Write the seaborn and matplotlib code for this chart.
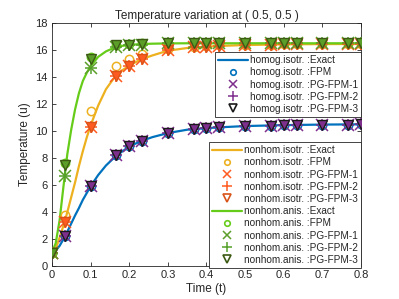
import seaborn as sns
import matplotlib.pyplot as plt
from matplotlib.lines import Line2D

# ---- exact solutions ----
t_exact = [0, 0.01, 0.02, 0.03, 0.04, 0.05, 0.06, 0.07, 0.08, 0.09, 0.1,
           0.12, 0.14, 0.16, 0.18, 0.2, 0.23, 0.26, 0.3, 0.35, 0.4, 0.45,
           0.5, 0.6, 0.7, 0.8]
homog_exact = [1.0, 1.15, 1.5, 2.0, 2.55, 3.15, 3.75, 4.3, 4.9, 5.4, 5.9,
               6.75, 7.45, 8.0, 8.45, 8.85, 9.25, 9.55, 9.85, 10.1, 10.22,
               10.3, 10.37, 10.44, 10.48, 10.5]
nonhom_isotr_exact = [1.0, 1.3, 2.1, 3.0, 4.0, 5.1, 6.2, 7.4, 8.5, 9.5, 10.4,
                      11.9, 13.1, 13.9, 14.45, 14.85, 15.3, 15.6, 15.95, 16.15,
                      16.25, 16.32, 16.37, 16.42, 16.44, 16.45]
nonhom_anis_exact = [1.0, 1.7, 3.4, 5.9, 8.3, 10.1, 11.6, 12.8, 13.7, 14.3,
                     14.8, 15.5, 15.9, 16.15, 16.3, 16.38, 16.44, 16.47, 16.49,
                     16.5, 16.5, 16.5, 16.5, 16.5, 16.5, 16.5]

# ---- discrete solutions ----
t_pts = [0, 0.033, 0.1, 0.167, 0.2, 0.233, 0.3, 0.367, 0.4, 0.433, 0.5,
         0.567, 0.6, 0.633, 0.7, 0.767, 0.8]

homog_fpm = [1.0, 2.2, 5.9, 8.2, 8.9, 9.3, 9.85, 10.15, 10.2, 10.3, 10.35,
             10.4, 10.42, 10.44, 10.46, 10.48, 10.5]
homog_pg1 = homog_fpm
homog_pg2 = homog_fpm
homog_pg3 = homog_fpm

isotr_fpm = [1.0, 3.8, 11.5, 14.8, 15.3, 15.7, 16.1, 16.25, 16.3, 16.35,
             16.38, 16.4, 16.42, 16.43, 16.44, 16.45, 16.45]
isotr_pg1 = [1.0, 3.3, 10.3, 14.1, 14.8, 15.3, 16.0, 16.2, 16.25, 16.3,
             16.35, 16.4, 16.42, 16.43, 16.44, 16.45, 16.45]
isotr_pg2 = isotr_pg1
isotr_pg3 = isotr_pg1

anis_fpm = [1.0, 7.6, 15.5, 16.4, 16.45, 16.5, 16.5, 16.5, 16.5, 16.5,
            16.5, 16.5, 16.5, 16.5, 16.5, 16.5, 16.5]
anis_pg1 = [1.0, 6.7, 14.7, 16.2, 16.35, 16.4, 16.5, 16.5, 16.5, 16.5,
            16.5, 16.5, 16.5, 16.5, 16.5, 16.5, 16.5]
anis_pg2 = anis_pg1
anis_pg3 = [1.0, 7.5, 15.3, 16.35, 16.4, 16.45, 16.5, 16.5, 16.5, 16.5,
            16.5, 16.5, 16.5, 16.5, 16.5, 16.5, 16.5]

sns.set_style("ticks")
plt.rcParams["font.family"] = ["Liberation Sans", "DejaVu Sans"]

fig = plt.figure(figsize=(3.99, 2.99), dpi=100)
ax = fig.add_axes([0.130, 0.110, 0.775, 0.813])

# series: name, exact, fpm, pg1, pg2, pg3, colors (line, circle, x, +, tri edge, tri face)
series = [
    ("homog.isotr.", homog_exact, homog_fpm, homog_pg1, homog_pg2, homog_pg3,
     "#0072BD", "#0072BD", "#7E2F8E", "#7E2F8E", "#1a1a1a", "#7E2F8E"),
    ("nonhom.isotr.", nonhom_isotr_exact, isotr_fpm, isotr_pg1, isotr_pg2, isotr_pg3,
     "#EDB120", "#EDB120", "#FF5A1F", "#FF5A1F", "#D95319", "#FF5A1F"),
    ("nonhom.anis.", nonhom_anis_exact, anis_fpm, anis_pg1, anis_pg2, anis_pg3,
     "#66CC1A", "#66CC1A", "#5C9E2A", "#55A02A", "#3C5A14", "#5C9E2A"),
]

handles = []
for name, ex, fpm, p1, p2, p3, c_line, c_o, c_x, c_p, c_te, c_tf in series:
    sns.lineplot(x=t_exact, y=ex, ax=ax, color=c_line, linewidth=1.6,
                 legend=False, zorder=2)
    ax.plot(t_pts, fpm, "o", ms=6, mfc="none", mec=c_o, mew=1.1, zorder=3)
    ax.plot(t_pts, p1, "x", ms=8, color=c_x, mew=1.1, zorder=4)
    ax.plot(t_pts, p2, "+", ms=9, color=c_p, mew=1.1, zorder=4)
    ax.plot(t_pts, p3, "v", ms=7, mfc=c_tf, mec=c_te, mew=1.0, zorder=5)

    handles.append([
        Line2D([], [], color=c_line, lw=1.6, label=name + " :Exact"),
        Line2D([], [], ls="none", marker="o", ms=4, mfc="none", mec=c_o,
               mew=1.2, label=name + " :FPM"),
        Line2D([], [], ls="none", marker="x", ms=6, color=c_x, mew=1.1,
               label=name + " :PG-FPM-1"),
        Line2D([], [], ls="none", marker="+", ms=7.5, color=c_p, mew=1.1,
               label=name + " :PG-FPM-2"),
        Line2D([], [], ls="none", marker="v", ms=6, mfc="none", mec=c_te,
               mew=1.2, label=name + " :PG-FPM-3"),
    ])

ax.set_xlim(0, 0.8)
ax.set_ylim(0, 18)
ax.set_xticks([0, 0.1, 0.2, 0.3, 0.4, 0.5, 0.6, 0.7, 0.8])
ax.set_xticklabels(["0", "0.1", "0.2", "0.3", "0.4", "0.5", "0.6", "0.7", "0.8"])
ax.set_yticks(range(0, 19, 2))
ax.tick_params(direction="in", length=3, width=0.6, labelsize=8,
               colors="#262626", top=True, right=True, pad=3)
for sp in ax.spines.values():
    sp.set_linewidth(0.6)
    sp.set_color("#262626")

ax.set_title("Temperature variation at ( 0.5, 0.5 )", fontsize=8.5, pad=3)
ax.set_xlabel("Time (t)", fontsize=8.5, labelpad=2)
ax.set_ylabel("Temperature (u)", fontsize=8.5, labelpad=3)

leg_kw = dict(fontsize=7.2, frameon=True, fancybox=False, framealpha=1,
              edgecolor="#262626", handlelength=3.0, handletextpad=0.2,
              labelspacing=0.22, borderpad=0.3, borderaxespad=0,
              loc="upper right")
leg1 = ax.legend(handles=handles[0], bbox_to_anchor=(1.0, 0.88), **leg_kw)
leg1.get_frame().set_linewidth(0.6)
ax.add_artist(leg1)
leg2 = ax.legend(handles=handles[1] + handles[2], bbox_to_anchor=(1.0, 0.51),
                 **leg_kw)
leg2.get_frame().set_linewidth(0.6)

fig.savefig("out.png", dpi=100)
